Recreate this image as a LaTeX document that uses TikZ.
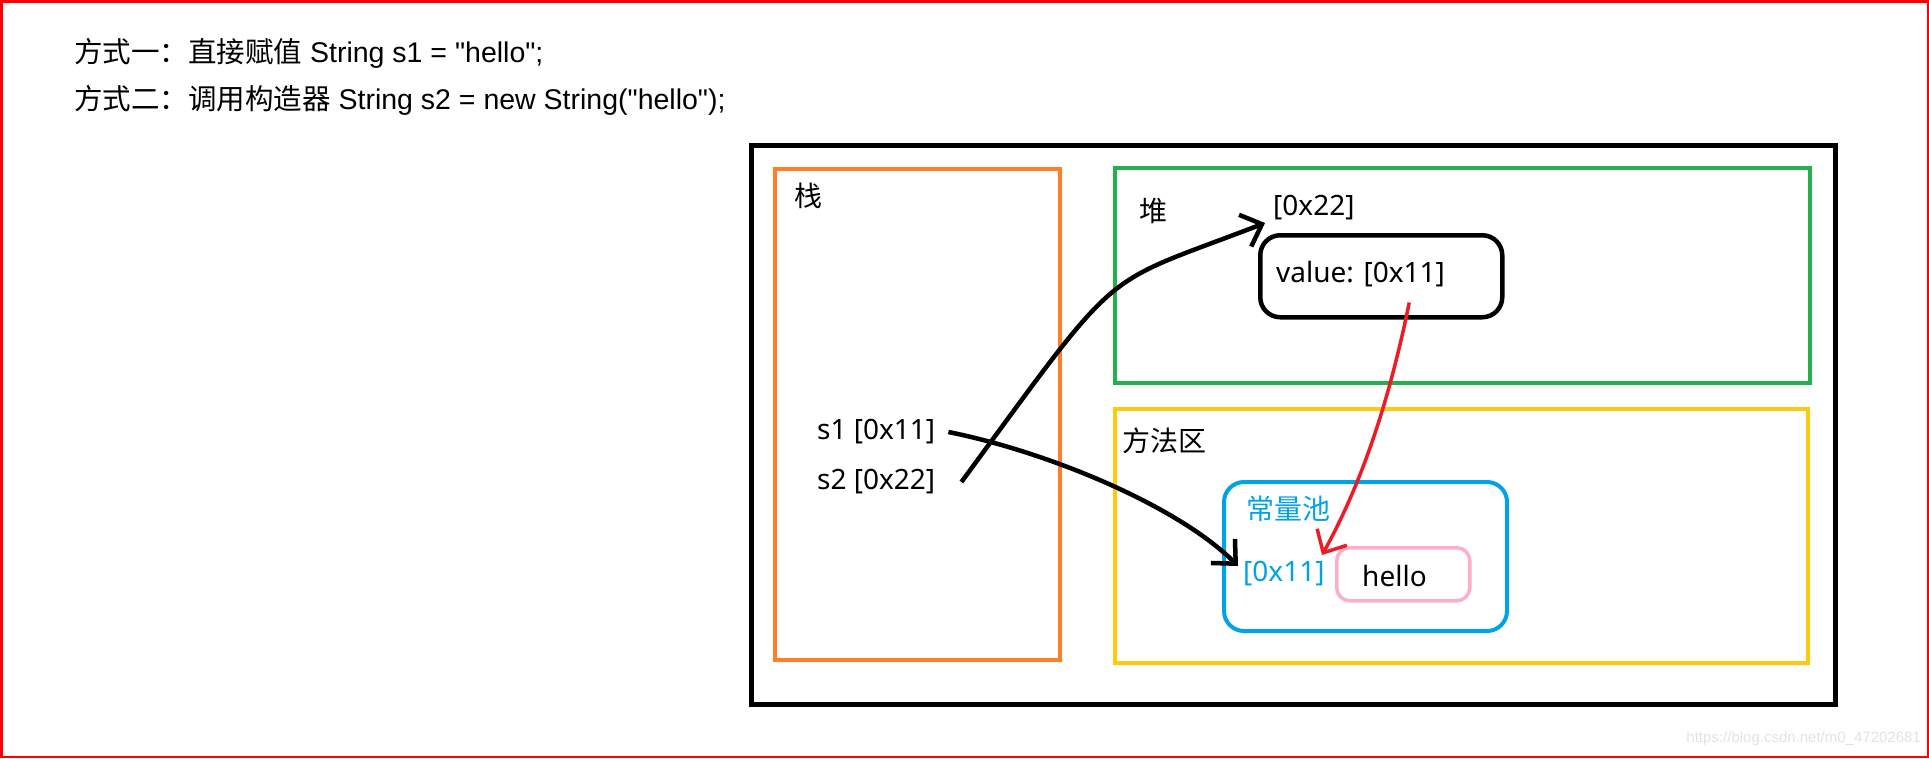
\documentclass[tikz,border=0pt]{standalone}
\usepackage{fontspec}
\newfontfamily\codefont{Liberation Sans}
\newfontfamily\cjk{Noto Sans CJK SC}
\newfontfamily\boxlatin{Noto Sans}
\definecolor{PFrame}{HTML}{FF0000}
\definecolor{POrange}{HTML}{FF7F27}
\definecolor{PGreen}{HTML}{22B14C}
\definecolor{PYellow}{HTML}{FFC90E}
\definecolor{PBlue}{HTML}{00A2E8}
\definecolor{PRed}{HTML}{ED1C24}
\definecolor{PPink}{HTML}{FFAEC9}
\definecolor{PMark}{HTML}{E2E2E2}
\usetikzlibrary{arrows.meta,positioning}

\tikzset{
  memarea/.style={draw=#1,line width=4pt,inner sep=0pt,anchor=north west},
  membox/.style={draw=#1,rounded corners=20pt,line width=4pt,inner sep=0pt,anchor=north west},
  memtext/.style={inner sep=0pt,anchor=west,font=\boxlatin\fontsize{28}{32}\selectfont},
  headline/.style={inner sep=0pt,anchor=west,font=\codefont\fontsize{28.5}{34}\selectfont},
  ref/.style={line width=4.5pt,-{Straight Barb[length=18pt,width=34pt]}},
}

\begin{document}
\begin{tikzpicture}[x=1pt,y=-1pt]
  \useasboundingbox (0,0) rectangle (1929,758);
  \draw[PFrame,line width=2.5pt] (1.25,1.25) rectangle (1927.75,756.75);

  % code lines
  \node[headline] (way1) at (74,53) {{\cjk 方式一：直接赋值} String s1 = "hello";};
  \node[headline] (way2) at (74,100) {{\cjk 方式二：调用构造器} String s2 = new String("hello");};

  % memory regions
  \node[memarea=black,line width=5pt,minimum width=1084pt,minimum height=559pt] (jvm) at (749,143) {};
  \node[memarea=POrange,minimum width=285pt,minimum height=491pt] (stack) at (773,167) {};
  \node[memarea=PGreen,minimum width=695pt,minimum height=215pt] (heap) at (1113,166) {};
  \node[memarea=PYellow,minimum width=693pt,minimum height=254pt] (method) at (1113,407) {};
  \node[membox=PBlue,minimum width=283pt,minimum height=149pt] (pool) at (1222,480) {};
  \node[membox=black,line width=4.5pt,minimum width=242pt,minimum height=82pt] (obj) at (1258,233) {};
  \node[membox=PPink,rounded corners=13pt,line width=3.5pt,minimum width=133pt,minimum height=53pt] (lit) at (1335,546) {};

  % labels
  \node[memtext] (stacklbl) at (794,196) {\cjk 栈};
  \node[memtext] (heaplbl) at (1139,211) {\cjk 堆};
  \node[memtext] (methodlbl) at (1122,441) {\cjk 方法区};
  \node[memtext,text=PBlue] (poollbl) at (1246,509) {\cjk 常量池};
  \node[memtext] (s1) at (817,432) {s1 [0x11]};
  \node[memtext] (s2) at (817,482) {s2 [0x22]};
  \node[memtext] (objaddr) at (1273,208) {[0x22]};
  \node[memtext] (value) at (1276,274) {value: [0x11]};
  \node[memtext,text=PBlue] (litaddr) at (1243,574) {[0x11]};
  \node[memtext] (hello) at (1362,576) {hello};

  % references
  \draw[ref] ([xshift=13pt]s1.east) .. controls +(100,20) and +(-60,-60) .. ([xshift=-5pt,yshift=8pt]litaddr.west);
  \draw[ref] ([xshift=26pt]s2.east) .. controls +(164,-223) and +(-169,65) .. ([xshift=-8pt,yshift=-15pt]objaddr.west);
  \draw[ref,PRed,line width=3.5pt] ([xshift=28pt,yshift=17pt]obj.south) .. controls +(-20,98) and +(40,-72) .. ([xshift=-13pt,yshift=-9pt]lit.north west);

  \node[inner sep=0pt,anchor=east,text=PMark,font=\codefont\fontsize{15}{18}\selectfont] (mark) at (1921,739) {https://blog.csdn.net/m0\_47202681};
\end{tikzpicture}
\end{document}
